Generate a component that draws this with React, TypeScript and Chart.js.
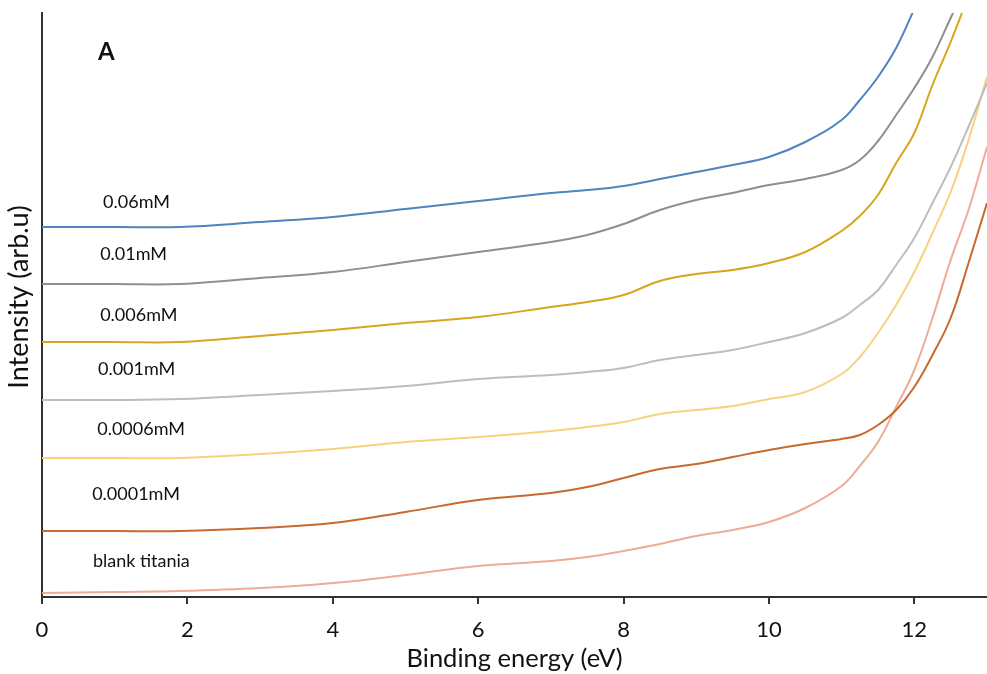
import React, { useEffect, useRef } from "react";
import { Chart, registerables } from "chart.js";

Chart.register(...registerables);

// Binding energy (eV) sample positions
const energy = [0, 1, 1.9, 3, 4, 5, 6, 7, 7.5, 8, 8.5, 9, 9.5, 10, 10.5, 11, 11.25, 11.5, 11.75, 12, 12.25, 12.5, 12.75, 13];

// Intensity (arb.u)
const mM006 = [370, 370, 370, 375, 380, 388, 396, 404, 407, 411, 418, 425, 432, 440, 455, 477, 497, 520, 549, 588, 627, 667, 707, 747];
const mM001 = [313, 313, 313, 319, 325, 335, 345, 355, 362, 373, 387, 397, 404, 412, 418, 427, 437, 456, 482, 509, 540, 579, 617, 657];
const mM0006 = [255, 255, 255, 261, 267, 274, 280, 290, 295, 302, 316, 323, 327, 334, 345, 366, 381, 402, 434, 464, 512, 555, 602, 647];
const mM0001 = [197, 197, 198, 202, 206, 211, 218, 222, 225, 229, 237, 242, 247, 255, 264, 279, 292, 307, 332, 359, 394, 430, 471, 514];
const mM00006 = [139, 139, 139, 143, 148, 155, 160, 166, 170, 175, 183, 187, 191, 198, 205, 223, 240, 264, 292, 325, 364, 405, 458, 520];
const mM00001 = [66, 66, 66, 69, 74, 85, 97, 104, 110, 119, 128, 133, 140, 147, 153, 158, 162, 172, 187, 210, 242, 279, 335, 394];
const blankTitania = [4, 5, 6, 9, 14, 22, 31, 36, 40, 46, 53, 61, 67, 75, 89, 111, 131, 155, 190, 227, 279, 337, 388, 450];

const seriesNames = ["0.06mM", "0.01mM", "0.006mM", "0.001mM", "0.0006mM", "0.0001mM", "blank titania"];
const seriesValues = [mM006, mM001, mM0006, mM0001, mM00006, mM00001, blankTitania];
const seriesColors = ["#4f84be", "#8f8f8f", "#d6a61c", "#bdbdbd", "#f7d27e", "#c8692e", "#efab95"];

// Text labels beside curves (data coordinates)
const labelEnergy = [0.84, 0.8, 0.8, 0.77, 0.76, 0.69, 0.7];
const labelIntensity = [395, 343, 282, 228, 168, 103, 36];
const panelLetter = "A";
const panelEnergy = 0.77;
const panelIntensity = 545;

const xTickValues = [0, 2, 4, 6, 8, 10, 12];
const yTitle = "Intensity (arb.u)";

const FONT = "Lato, 'Open Sans', sans-serif";

const labelPlugin = {
  id: "curveLabels",
  afterDatasetsDraw(chart: any) {
    const { ctx, scales } = chart;
    const xs = scales.x;
    const ys = scales.y;
    ctx.save();
    ctx.fillStyle = "#111";
    ctx.textAlign = "left";
    ctx.textBaseline = "middle";
    ctx.font = `18px ${FONT}`;
    seriesNames.forEach((name, i) => {
      ctx.fillText(name, xs.getPixelForValue(labelEnergy[i]), ys.getPixelForValue(labelIntensity[i]));
    });
    ctx.font = `bold 24px ${FONT}`;
    ctx.fillText(panelLetter, xs.getPixelForValue(panelEnergy), ys.getPixelForValue(panelIntensity));
    ctx.restore();
  },
  afterDraw(chart: any) {
    const { ctx, chartArea } = chart;
    ctx.save();
    ctx.fillStyle = "#111";
    ctx.font = `27px ${FONT}`;
    ctx.textAlign = "center";
    ctx.textBaseline = "middle";
    ctx.translate(chartArea.left - 23, (chartArea.top + chartArea.bottom) / 2 - 8);
    ctx.rotate(-Math.PI / 2);
    ctx.fillText(yTitle, 0, 0);
    ctx.restore();
  },
};

export default function App() {
  const ref = useRef<HTMLCanvasElement | null>(null);

  useEffect(() => {
    document.body.style.margin = "0";
    const canvas = ref.current;
    if (!canvas) return;
    const chart = new Chart(canvas, {
      type: "line",
      data: {
        datasets: seriesNames.map((name, i) => ({
          label: name,
          data: energy.map((e, j) => ({ x: e, y: seriesValues[i][j] })),
          borderColor: seriesColors[i],
          backgroundColor: seriesColors[i],
          borderWidth: 2,
          pointRadius: 0,
          tension: 0.4,
          fill: false,
        })),
      },
      options: {
        animation: false,
        responsive: false,
        layout: { padding: { top: 13, right: 0, left: 0, bottom: 0 } },
        plugins: {
          legend: { display: false },
          tooltip: { enabled: false },
        },
        scales: {
          x: {
            type: "linear",
            min: 0,
            max: 13,
            afterBuildTicks: (s: any) => {
              s.ticks = xTickValues.map((v) => ({ value: v }));
            },
            afterFit: (s: any) => {
              s.height = 77;
            },
            grid: {
              display: true,
              drawOnChartArea: false,
              drawTicks: true,
              tickLength: 7,
              color: "#333",
              lineWidth: 2,
            },
            border: { display: true, color: "#333", width: 2 },
            ticks: {
              color: "#111",
              font: { family: FONT, size: 22 },
              padding: 13,
              maxRotation: 0,
            },
            title: {
              display: true,
              text: "Binding energy (eV)",
              color: "#111",
              font: { family: FONT, size: 25.5 },
              padding: { top: 0, bottom: 0 },
            },
          },
          y: {
            type: "linear",
            min: 0,
            max: 584,
            afterFit: (s: any) => {
              s.width = 42;
            },
            grid: { display: false },
            border: { display: true, color: "#333", width: 2 },
            ticks: { display: false },
            title: { display: false },
          },
        },
      },
      plugins: [labelPlugin],
    });
    return () => chart.destroy();
  }, []);

  return (
    <div style={{ position: "absolute", left: 0, top: 0, width: 987, height: 674, background: "#fff" }}>
      <canvas ref={ref} width={987} height={674} />
    </div>
  );
}
